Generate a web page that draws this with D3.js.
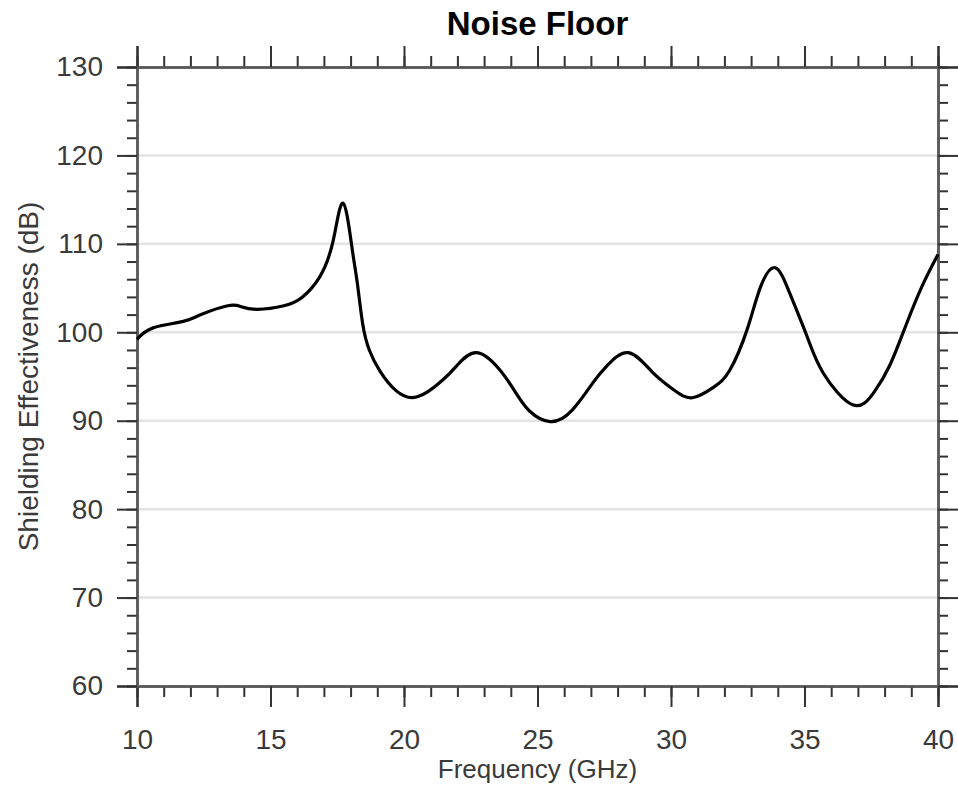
<!DOCTYPE html>
<html>
<head>
<meta charset="utf-8">
<script src="https://cdn.jsdelivr.net/npm/d3@7"></script>
<style>
  html, body { margin: 0; padding: 0; background: #fff; }
  svg text { font-family: "Liberation Sans", Arial, Helvetica, sans-serif; }
</style>
</head>
<body>
<svg id="chart" width="958" height="791"></svg>
<script>
// data
const freq = [10, 10.6, 11.7, 12.4, 13.4, 13.9, 14.5, 15.5, 16.2, 16.85, 17.35, 17.72, 18.05, 18.25, 18.45, 18.7, 19.1, 19.7,
  20.5, 21.45, 22.0, 22.73, 23.6, 24.2, 24.7, 25.47, 26.3, 27.1, 27.6, 28.4, 29.3, 30.1, 30.8, 31.6, 32.2, 32.85,
  33.35, 33.9, 34.45, 35.1, 35.7, 36.8, 37.6, 38.2, 38.8, 39.4, 40]
const shielding = [99.2, 100.5, 101.2, 102.0, 103.0, 102.9, 102.6, 103.0, 104.0, 106.3, 110.4, 114.6, 109.6, 105.6, 101.0, 98.0, 95.6, 93.4,
  92.7, 94.6, 96.3, 97.7, 95.7, 93.1, 91.1, 89.9, 91.2, 94.4, 96.2, 97.7, 95.5, 93.5, 92.6, 93.8, 95.7, 100.3,
  105.1, 107.3, 104.4, 99.5, 95.4, 91.8, 93.2, 96.3, 100.8, 105.2, 108.8]
const xTicks = [10, 15, 20, 25, 30, 35, 40]
const yTicks = [60, 70, 80, 90, 100, 110, 120, 130]

const margin = { top: 67, right: 20, bottom: 105, left: 137 }
const width = 958, height = 791
const svg = d3.select("#chart")

const x = d3.scaleLinear().domain([10, 40]).range([margin.left, width - margin.right])
const y = d3.scaleLinear().domain([60, 130]).range([height - margin.bottom, margin.top])

// grid
svg.append("g")
  .selectAll("line")
  .data(yTicks.slice(1, -1))
  .join("line")
  .attr("x1", x(10)).attr("x2", x(40))
  .attr("y1", d => y(d)).attr("y2", d => y(d))
  .attr("stroke", "#e3e3e3")
  .attr("stroke-width", 2.5)

const xMinor = d3.range(10, 40.01, 1)
const yMinor = d3.range(60, 130.01, 2)

function styleAxis(g) {
  g.select(".domain").attr("stroke", "#5a5a5a").attr("stroke-width", 2.5)
  g.selectAll(".tick line").attr("stroke", "#333").attr("stroke-width", 2)
  g.selectAll(".tick text").attr("fill", "#3a3a3a").attr("font-size", 28)
}

// minor ticks first, majors over them
svg.append("g").attr("transform", `translate(0,${y(60)})`)
  .call(d3.axisBottom(x).tickValues(xMinor).tickSize(11).tickFormat(""))
  .call(styleAxis)
svg.append("g").attr("transform", `translate(0,${y(130)})`)
  .call(d3.axisTop(x).tickValues(xMinor).tickSize(11).tickFormat(""))
  .call(styleAxis)
svg.append("g").attr("transform", `translate(${x(10)},0)`)
  .call(d3.axisLeft(y).tickValues(yMinor).tickSize(10).tickFormat(""))
  .call(styleAxis)
svg.append("g").attr("transform", `translate(${x(40)},0)`)
  .call(d3.axisRight(y).tickValues(yMinor).tickSize(10).tickFormat(""))
  .call(styleAxis)

svg.append("g").attr("transform", `translate(0,${y(60)})`)
  .call(d3.axisBottom(x).tickValues(xTicks).tickSize(21).tickPadding(22).tickFormat(d3.format("d")))
  .call(styleAxis)
svg.append("g").attr("transform", `translate(0,${y(130)})`)
  .call(d3.axisTop(x).tickValues(xTicks).tickSize(21).tickFormat(""))
  .call(styleAxis)
svg.append("g").attr("transform", `translate(${x(10)},0)`)
  .call(d3.axisLeft(y).tickValues(yTicks).tickSize(20).tickPadding(14).tickFormat(d3.format("d")))
  .call(styleAxis)
svg.append("g").attr("transform", `translate(${x(40)},0)`)
  .call(d3.axisRight(y).tickValues(yTicks).tickSize(20).tickFormat(""))
  .call(styleAxis)

// curve
const line = d3.line()
  .x((d, i) => x(freq[i]))
  .y(d => y(d))
  .curve(d3.curveNatural)

svg.append("path")
  .datum(shielding)
  .attr("d", line)
  .attr("fill", "none")
  .attr("stroke", "#000")
  .attr("stroke-width", 3.2)
  .attr("stroke-linejoin", "round")

// labels
svg.append("text")
  .attr("x", (x(10) + x(40)) / 2).attr("y", 35)
  .attr("text-anchor", "middle")
  .attr("font-size", 33).attr("font-weight", "bold")
  .text("Noise Floor")

svg.append("text")
  .attr("x", (x(10) + x(40)) / 2).attr("y", 778)
  .attr("text-anchor", "middle")
  .attr("font-size", 26).attr("fill", "#3a3a3a")
  .text("Frequency (GHz)")

svg.append("text")
  .attr("transform", `translate(38,${(y(60) + y(130)) / 2}) rotate(-90)`)
  .attr("text-anchor", "middle")
  .attr("font-size", 28).attr("fill", "#3a3a3a")
  .text("Shielding Effectiveness (dB)")
</script>
</body>
</html>
